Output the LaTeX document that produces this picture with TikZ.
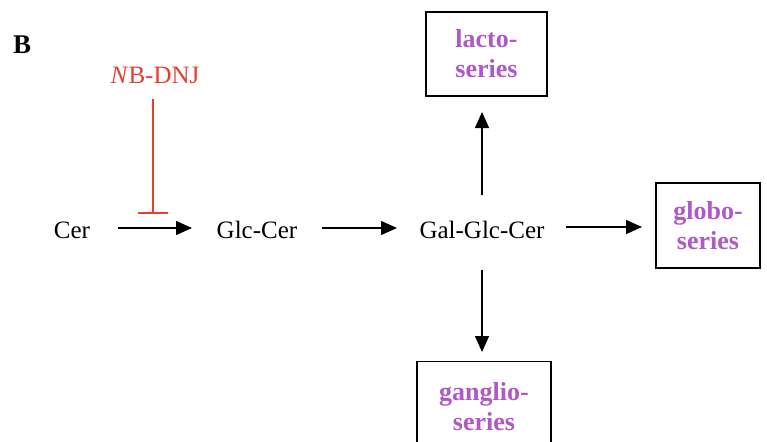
\documentclass[tikz,border=0pt]{standalone}
\usepackage{fontspec}
\setmainfont{Liberation Serif}
\usetikzlibrary{arrows.meta}
\definecolor{purp}{RGB}{176,88,200}
\definecolor{inhib}{RGB}{232,62,50}
\begin{document}
\begin{tikzpicture}[x=1pt,y=-1pt,
  lbl/.style={font=\fontsize{25}{30}\selectfont, inner sep=0pt},
  series/.style={draw, line width=1.3pt, font=\bfseries\fontsize{26}{30}\selectfont, text=purp, align=center, minimum width=121pt, minimum height=84pt, inner sep=0pt},
  arr/.style={line width=1.4pt, -{Triangle[length=16pt,width=14pt]}},
  inh/.style={draw=inhib, line width=1.3pt}]
\useasboundingbox (0,0) rectangle (767,441);
\node[font=\bfseries\fontsize{27}{30}\selectfont, anchor=west, inner sep=0pt] (B) at (13,45) {B};
\node[lbl, text=inhib] (nb) at (155,75) {\textit{N}B-DNJ};
\node[lbl] (cer) at (72,230) {Cer};
\node[lbl] (glc) at (257,230) {Glc-Cer};
\node[lbl] (gal) at (482,230) {Gal-Glc-Cer};
\node[series] (lacto) at (486.5,54) {lacto-\\series};
\node[series, minimum width=104pt, minimum height=85pt] (globo) at (708,225.5) {globo-\\series};
\node[series, minimum width=134pt, minimum height=90pt, anchor=north] (ganglio) at (484,361) {ganglio-\\series};
\coordinate (c1) at (118,228);
\coordinate (c2) at (192,228);
\coordinate (g1) at (322,228);
\coordinate (g2) at (397,228);
\coordinate (h1) at (566,227);
\coordinate (h2) at (642,227);
\coordinate (u1) at (482,195);
\coordinate (d1) at (482,270);
\coordinate (t1) at (153,99);
\coordinate (t2) at (153,213);
\coordinate (b1) at (138,213);
\coordinate (b2) at (168,213);
\draw[arr] (c1) -- (c2);
\draw[arr] (g1) -- (g2);
\draw[arr] (h1) -- (h2);
\draw[arr] (u1) -- (482,112);
\draw[arr] (d1) -- (482,352);
\draw[inh] (t1) -- (t2);
\draw[inh] (b1) -- (b2);
\end{tikzpicture}
\end{document}
